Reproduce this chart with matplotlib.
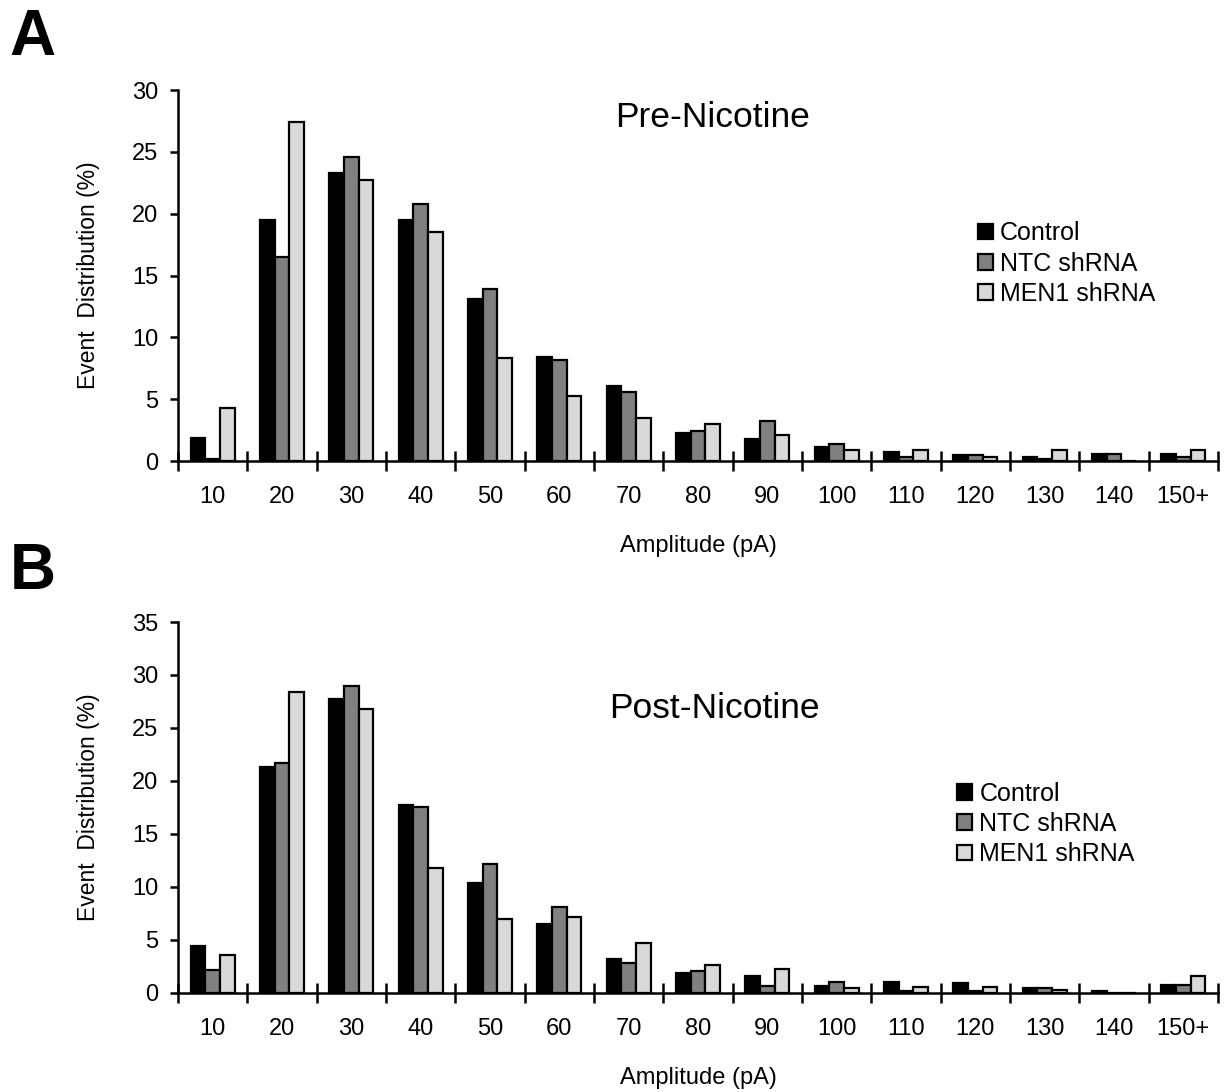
import numpy as np
import matplotlib
matplotlib.use("Agg")
import matplotlib.pyplot as plt

plt.rcParams['font.family'] = ['Liberation Sans', 'DejaVu Sans']

categories = ["10", "20", "30", "40", "50", "60", "70", "80", "90", "100",
              "110", "120", "130", "140", "150+"]
series = ["Control", "NTC shRNA", "MEN1 shRNA"]
colors = ["#000000", "#808080", "#d9d9d9"]

pre_control = [1.9, 19.5, 23.3, 19.5, 13.1, 8.4, 6.1, 2.3, 1.8, 1.1, 0.75, 0.5, 0.3, 0.6, 0.6]
pre_ntc = [0.2, 16.5, 24.6, 20.8, 13.9, 8.2, 5.6, 2.4, 3.2, 1.4, 0.3, 0.45, 0.15, 0.6, 0.3]
pre_men1 = [4.3, 27.4, 22.7, 18.5, 8.3, 5.3, 3.5, 3.0, 2.1, 0.9, 0.9, 0.3, 0.9, 0.0, 0.9]

post_control = [4.4, 21.35, 27.75, 17.75, 10.4, 6.55, 3.2, 1.9, 1.6, 0.7, 1.0, 0.9, 0.5, 0.2, 0.75]
post_ntc = [2.2, 21.7, 28.95, 17.5, 12.15, 8.1, 2.8, 2.1, 0.7, 1.0, 0.15, 0.15, 0.5, 0.0, 0.75]
post_men1 = [3.6, 28.4, 26.8, 11.8, 7.0, 7.2, 4.75, 2.6, 2.3, 0.5, 0.6, 0.6, 0.3, 0.0, 1.6]

fig = plt.figure(figsize=(12.3, 10.92), dpi=100)
axA = fig.add_axes([0.1447, 0.5778, 0.8455, 0.3397])
axB = fig.add_axes([0.1447, 0.0907, 0.8455, 0.3397])


def draw_panel(ax, data, ymax, title, title_xy, leg_xy):
    x = np.arange(len(categories))
    w = 0.212
    for k, (vals, name, c) in enumerate(zip(data, series, colors)):
        ax.bar(x + (k - 1) * w, vals, width=w, color=c, edgecolor="black",
               linewidth=1.6, label=name, zorder=2)
    ax.set_xlim(-0.5, len(categories) - 0.5)
    ax.set_ylim(0, ymax)
    ax.set_yticks(np.arange(0, ymax + 1, 5))
    ax.set_xticks(np.arange(-0.5, len(categories), 1.0))
    ax.set_xticklabels([])
    ax.set_xticks(x, minor=True)
    ax.set_xticklabels(categories, minor=True)
    ax.tick_params(axis="x", which="major", direction="inout", length=14, width=1.8)
    ax.tick_params(axis="x", which="minor", length=0, pad=18, labelsize=17)
    ax.tick_params(axis="y", direction="out", length=6, width=1.8, labelsize=17, pad=8)
    for s in ["top", "right"]:
        ax.spines[s].set_visible(False)
    for s in ["left", "bottom"]:
        ax.spines[s].set_linewidth(1.8)
    ax.set_ylabel("Event  Distribution (%)", fontsize=16.5)
    ax.yaxis.set_label_coords(-0.075, 0.5)
    ax.set_xlabel("Amplitude (pA)", fontsize=17)
    ax.xaxis.set_label_coords(0.5, -0.2)
    ax.text(title_xy[0], title_xy[1], title, transform=ax.transAxes,
            ha="center", va="center", fontsize=25.5)
    ax.legend(loc="upper left", bbox_to_anchor=leg_xy, frameon=False,
              fontsize=18, handlelength=0.6, handleheight=0.6,
              handletextpad=0.3, labelspacing=0.25, borderpad=0)


draw_panel(axA, [pre_control, pre_ntc, pre_men1], 30, "Pre-Nicotine",
           (0.514, 0.925), (0.757, 0.68))
draw_panel(axB, [post_control, post_ntc, post_men1], 35, "Post-Nicotine",
           (0.516, 0.766), (0.737, 0.603))

fig.text(0.008, 0.965, "A", fontsize=46, fontweight="bold", va="center")
fig.text(0.008, 0.476, "B", fontsize=46, fontweight="bold", va="center")

fig.savefig("out.png", dpi=100)
